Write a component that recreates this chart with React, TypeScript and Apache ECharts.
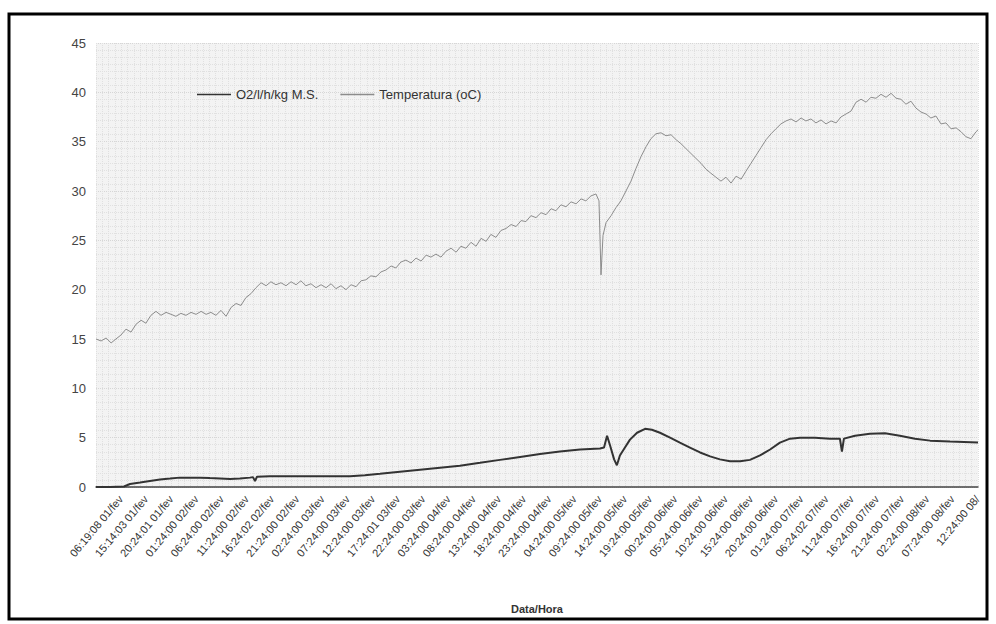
import React, { useEffect, useRef } from "react";
import * as echarts from "echarts";

const xLabels: string[] = [
  "06:19:08 01/fev", "15:14:03 01/fev", "20:24:01 01/fev", "01:24:00 02/fev", "06:24:00 02/fev",
  "11:24:00 02/fev", "16:24:02 02/fev", "21:24:00 02/fev", "02:24:00 03/fev", "07:24:00 03/fev",
  "12:24:00 03/fev", "17:24:01 03/fev", "22:24:00 03/fev", "03:24:00 04/fev", "08:24:00 04/fev",
  "13:24:00 04/fev", "18:24:00 04/fev", "23:24:00 04/fev", "04:24:00 05/fev", "09:24:00 05/fev",
  "14:24:00 05/fev", "19:24:00 05/fev", "00:24:00 06/fev", "05:24:00 06/fev", "10:24:00 06/fev",
  "15:24:00 06/fev", "20:24:00 06/fev", "01:24:00 07/fev", "06:24:02 07/fev", "11:24:00 07/fev",
  "16:24:00 07/fev", "21:24:00 07/fev", "02:24:00 08/fev", "07:24:00 08/fev", "12:24:00 08/",
];

// positions in label units (0 .. 35), values
const tempData: [number, number][] = [
  [0, 15.0], [0.2, 14.8], [0.4, 15.1], [0.6, 14.6], [0.79, 15.0], [0.99, 15.4], [1.19, 16.0], [1.39, 15.7],
  [1.59, 16.5], [1.79, 16.9], [1.98, 16.6], [2.18, 17.4], [2.38, 17.8], [2.58, 17.4], [2.78, 17.7], [2.98, 17.5],
  [3.17, 17.3], [3.37, 17.6], [3.57, 17.4], [3.77, 17.7], [3.97, 17.5], [4.17, 17.8], [4.37, 17.5], [4.56, 17.7],
  [4.76, 17.4], [4.96, 17.9], [5.16, 17.3], [5.36, 18.2], [5.56, 18.6], [5.75, 18.4], [5.95, 19.2], [6.15, 19.6],
  [6.35, 20.2], [6.55, 20.7], [6.75, 20.4], [6.94, 20.8], [7.14, 20.5], [7.34, 20.7], [7.54, 20.4], [7.74, 20.8],
  [7.94, 20.5], [8.13, 20.9], [8.33, 20.4], [8.53, 20.6], [8.73, 20.2], [8.93, 20.5], [9.13, 20.2], [9.33, 20.6],
  [9.52, 20.1], [9.72, 20.4], [9.92, 20.0], [10.12, 20.5], [10.32, 20.3], [10.52, 20.9], [10.71, 21.0], [10.91, 21.4],
  [11.11, 21.3], [11.31, 21.8], [11.51, 22.0], [11.71, 22.4], [11.9, 22.2], [12.1, 22.8], [12.3, 23.0], [12.5, 22.7],
  [12.7, 23.2], [12.9, 22.9], [13.1, 23.5], [13.29, 23.3], [13.49, 23.6], [13.69, 23.3], [13.89, 23.9], [14.09, 24.2],
  [14.29, 23.8], [14.48, 24.4], [14.68, 24.2], [14.88, 24.8], [15.08, 24.4], [15.28, 25.2], [15.48, 24.9], [15.67, 25.6],
  [15.87, 25.3], [16.07, 26.0], [16.27, 26.2], [16.47, 26.6], [16.67, 26.4], [16.87, 27.0], [17.06, 26.9], [17.26, 27.5],
  [17.46, 27.3], [17.66, 27.8], [17.86, 27.6], [18.06, 28.2], [18.25, 28.0], [18.45, 28.6], [18.65, 28.4], [18.85, 28.9],
  [19.05, 28.7], [19.25, 29.2], [19.44, 29.0], [19.64, 29.5], [19.84, 29.7], [19.96, 29.0], [20.04, 21.5], [20.12, 25.5],
  [20.24, 26.8], [20.44, 27.5], [20.63, 28.3], [20.83, 29.0], [21.03, 30.0], [21.23, 31.0], [21.43, 32.3], [21.63, 33.5],
  [21.83, 34.5], [22.02, 35.3], [22.22, 35.8], [22.42, 35.9], [22.62, 35.6], [22.82, 35.7], [23.02, 35.2], [23.21, 34.8],
  [23.41, 34.3], [23.61, 33.8], [23.81, 33.3], [24.01, 32.8], [24.21, 32.2], [24.4, 31.8], [24.6, 31.4], [24.8, 31.0],
  [25.0, 31.4], [25.2, 30.8], [25.4, 31.5], [25.6, 31.2], [25.79, 32.0], [25.99, 32.8], [26.19, 33.6], [26.39, 34.4],
  [26.59, 35.2], [26.79, 35.8], [26.98, 36.3], [27.18, 36.8], [27.38, 37.1], [27.58, 37.3], [27.78, 37.0], [27.98, 37.4],
  [28.17, 37.1], [28.37, 37.3], [28.57, 36.9], [28.77, 37.2], [28.97, 36.8], [29.17, 37.1], [29.37, 36.9], [29.56, 37.5],
  [29.76, 37.8], [29.96, 38.1], [30.16, 39.0], [30.36, 39.3], [30.56, 39.0], [30.75, 39.5], [30.95, 39.4], [31.15, 39.8],
  [31.35, 39.5], [31.55, 39.9], [31.75, 39.4], [31.94, 39.3], [32.14, 38.8], [32.34, 39.1], [32.54, 38.4], [32.74, 38.0],
  [32.94, 37.8], [33.13, 37.4], [33.33, 37.6], [33.53, 36.8], [33.73, 36.9], [33.93, 36.3], [34.13, 36.4], [34.33, 36.0],
  [34.52, 35.5], [34.72, 35.3], [34.92, 36.0], [35, 36.2],
];

const o2Data: [number, number][] = [
  [0, 0.0], [0.56, 0.0], [1.11, 0.05], [1.35, 0.3], [1.75, 0.45], [2.14, 0.6], [2.54, 0.75], [2.94, 0.85],
  [3.33, 0.95], [3.73, 0.95], [4.13, 0.95], [4.52, 0.9], [4.92, 0.85], [5.32, 0.8], [5.71, 0.85], [6.11, 0.95],
  [6.23, 1.0], [6.31, 0.6], [6.39, 1.05], [6.9, 1.1], [7.7, 1.1], [8.49, 1.1], [9.29, 1.1], [10.08, 1.1],
  [10.67, 1.2], [11.27, 1.35], [12.06, 1.55], [12.86, 1.75], [13.65, 1.95], [14.44, 2.15], [15.24, 2.45], [16.03, 2.75],
  [16.83, 3.05], [17.62, 3.35], [18.41, 3.6], [19.21, 3.8], [20.0, 3.9], [20.16, 4.0], [20.28, 5.2], [20.4, 4.2],
  [20.56, 2.8], [20.67, 2.2], [20.79, 3.2], [20.99, 4.0], [21.19, 4.8], [21.47, 5.5], [21.79, 5.9], [22.06, 5.8],
  [22.38, 5.5], [22.78, 5.0], [23.17, 4.5], [23.57, 4.0], [23.97, 3.5], [24.37, 3.1], [24.76, 2.8], [25.16, 2.6],
  [25.56, 2.6], [25.95, 2.75], [26.35, 3.2], [26.75, 3.8], [27.14, 4.5], [27.54, 4.9], [27.94, 5.0], [28.53, 5.0],
  [29.13, 4.9], [29.52, 4.9], [29.6, 3.6], [29.68, 4.9], [30.12, 5.2], [30.71, 5.4], [31.31, 5.45], [31.9, 5.2],
  [32.5, 4.9], [33.1, 4.7], [33.89, 4.6], [35, 4.5],
];

const yTicks = { min: 0, max: 45, interval: 5 };
const seriesNames = ["O2/l/h/kg M.S.", "Temperatura (oC)"];

export default function App() {
  const ref = useRef<HTMLDivElement>(null);
  useEffect(() => {
    if (!ref.current) return;
    const chart = echarts.init(ref.current, undefined, { renderer: "svg" });
    const font = "'Liberation Sans', Arial, sans-serif";
    chart.setOption({
      animation: false,
      backgroundColor: "#ffffff",
      textStyle: { fontFamily: font },
      grid: [
        { left: 96, right: 18, top: 43, bottom: 137, show: true, backgroundColor: "#f3f3f3", borderWidth: 0 },
        { left: 108, right: 6, top: 43, bottom: 137, show: false },
      ],
      legend: {
        left: 192,
        top: 83,
        icon: "rect",
        itemWidth: 34,
        itemHeight: 1.5,
        itemGap: 22,
        textStyle: { fontSize: 13, color: "#333", fontFamily: font },
        data: seriesNames,
      },
      xAxis: [
        {
          type: "category",
          gridIndex: 1,
          data: xLabels,
          position: "bottom",
          boundaryGap: true,
          axisLine: { show: false },
          axisTick: { show: false },
          axisLabel: { interval: 0, rotate: 50, fontSize: 11, color: "#333", margin: 10, fontFamily: font },
          splitLine: { show: false },
        },
        {
          type: "value",
          gridIndex: 0,
          min: 0,
          max: 35,
          interval: 0.25,
          position: "bottom",
          axisLine: { show: true, lineStyle: { color: "#444", width: 1.5 } },
          axisTick: { show: false },
          axisLabel: { show: false },
          splitLine: { show: true, lineStyle: { color: "#e0e0e0", width: 1, type: "dotted" } },
          name: "Data/Hora",
          nameLocation: "middle",
          nameGap: 116,
          nameTextStyle: { fontSize: 11, fontWeight: "bold", color: "#333", fontFamily: font },
        },
      ],
      yAxis: [
        {
          type: "value",
          gridIndex: 0,
          min: yTicks.min,
          max: yTicks.max,
          interval: yTicks.interval,
          axisLine: { show: false },
          axisTick: { show: false },
          axisLabel: { fontSize: 13, color: "#444", margin: 10, fontFamily: font },
          splitLine: { show: true, lineStyle: { color: "#d6d6d6", width: 1, type: "dotted" } },
          minorTick: { show: false, splitNumber: 7 },
          minorSplitLine: { show: true, lineStyle: { color: "#e0e0e0", width: 1, type: "dotted" } },
        },
        {
          type: "value",
          gridIndex: 1,
          min: yTicks.min,
          max: yTicks.max,
          show: false,
        },
      ],
      series: [
        {
          name: seriesNames[0],
          type: "line",
          xAxisIndex: 1,
          yAxisIndex: 0,
          data: o2Data,
          symbol: "none",
          lineStyle: { color: "#333", width: 2 },
          itemStyle: { color: "#333" },
          z: 3,
        },
        {
          name: seriesNames[1],
          type: "line",
          xAxisIndex: 1,
          yAxisIndex: 0,
          data: tempData,
          symbol: "none",
          lineStyle: { color: "#8c8c8c", width: 1 },
          itemStyle: { color: "#8c8c8c" },
          z: 2,
        },
      ],
      graphic: [
        {
          type: "rect",
          shape: { x: 9, y: 14, width: 978, height: 605 },
          style: { fill: "none", stroke: "#000", lineWidth: 3 },
          silent: true,
        },
      ],
    });
    return () => chart.dispose();
  }, []);
  return <div ref={ref} style={{ position: "fixed", left: 0, top: 0, width: 996, height: 624 }} />;
}
